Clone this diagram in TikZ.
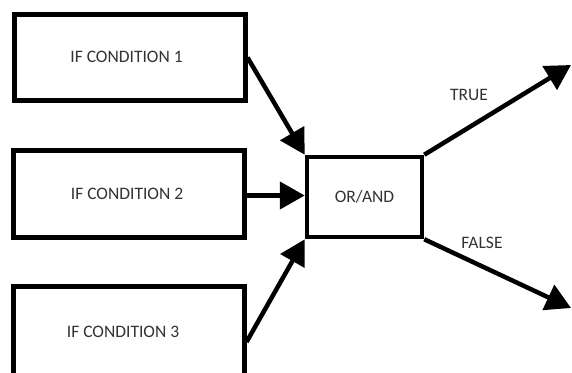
\documentclass[tikz,border=0pt]{standalone}
\usepackage{fontspec}
\setmainfont{Carlito}
\usetikzlibrary{arrows.meta}
\definecolor{txt}{HTML}{333333}
\tikzset{
  condbox/.style={draw=black, line width=5pt, fill=white, inner sep=0pt, minimum width=231pt, minimum height=86pt},
  gatebox/.style={draw=black, line width=4.5pt, fill=white, inner sep=0pt, minimum width=115pt, minimum height=80pt, text=txt, font=\fontsize{17.5}{19}\selectfont},
  conn/.style={line width=4.5pt, -{Triangle[length=25pt,width=27pt]}},
  lbl/.style={text=txt, font=\fontsize{17.5}{19}\selectfont, inner sep=0pt}
}
\begin{document}
\begin{tikzpicture}[x=1pt,y=-1pt]
\useasboundingbox (0,0) rectangle (572,372);
\clip (0,0) rectangle (572,372);
\fill[white] (0,0) rectangle (572,372);
\node[condbox] (c1) at (129.5,57.5) {};
\node[lbl] (t1) at (126.5,57) {IF CONDITION 1};
\node[condbox, minimum height=87pt] (c2) at (128.5,193.5) {};
\node[lbl] (t2) at (127,194) {IF CONDITION 2};
\node[condbox, minimum height=95pt] (c3) at (128.5,334) {};
\node[lbl] (t3) at (123,332) {IF CONDITION 3};
\node[gatebox] (g) at (364.5,197) {OR/AND};
\coordinate (tr) at (571,65);
\coordinate (fa) at (571,308);
\coordinate (c2e) at ([yshift=-2pt]c2.east);
\draw[conn] (c1.east) -- (g.north west);
\draw[conn] (c2e) -- (c2e -| g.west);
\draw[conn] ([yshift=-8pt]c3.east) -- (g.south west);
\draw[conn] (g.north east) -- (tr);
\draw[conn] (g.south east) -- (fa);
\node[lbl] (lt) at (469,95) {TRUE};
\node[lbl] (lf) at (482,243) {FALSE};
\end{tikzpicture}
\end{document}
